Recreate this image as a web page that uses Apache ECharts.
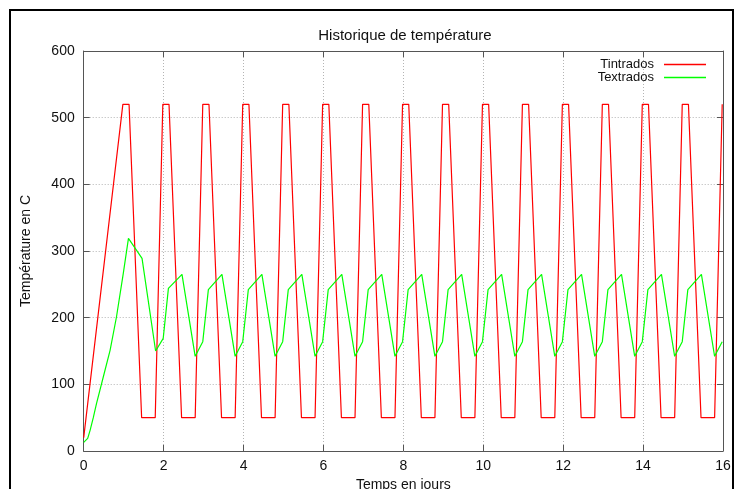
<!DOCTYPE html>
<html><head><meta charset="utf-8">
<script src="https://cdn.jsdelivr.net/npm/echarts@6/dist/echarts.min.js"></script>
<style>html,body{margin:0;padding:0;background:#fff}#c{width:736px;height:489px}</style>
</head><body><div id="c"></div>
<script>
const chartTitle = 'Historique de température';
const xName = 'Temps en jours';
const yName = 'Température en C';
const seriesNames = ['Tintrados', 'Textrados'];
const xRange = [0, 16, 2];
const yRange = [0, 600, 100];

const tintrados = [
  [0,20],
  [0.98,520],[1.135,520],[1.45,50],[1.79,50],
  [1.98,520],[2.135,520],[2.45,50],[2.79,50],
  [2.98,520],[3.135,520],[3.45,50],[3.79,50],
  [3.98,520],[4.135,520],[4.45,50],[4.79,50],
  [4.98,520],[5.135,520],[5.45,50],[5.79,50],
  [5.98,520],[6.135,520],[6.45,50],[6.79,50],
  [6.98,520],[7.135,520],[7.45,50],[7.79,50],
  [7.98,520],[8.135,520],[8.45,50],[8.79,50],
  [8.98,520],[9.135,520],[9.45,50],[9.79,50],
  [9.98,520],[10.135,520],[10.45,50],[10.79,50],
  [10.98,520],[11.135,520],[11.45,50],[11.79,50],
  [11.98,520],[12.135,520],[12.45,50],[12.79,50],
  [12.98,520],[13.135,520],[13.45,50],[13.79,50],
  [13.98,520],[14.135,520],[14.45,50],[14.79,50],
  [14.98,520],[15.135,520],[15.45,50],[15.79,50],
  [15.98,520]
];

const textrados = [
  [0,13],[0.05,14.5],[0.1,19],[0.16,31],[0.24,50],[0.32,71],[0.49,111],[0.66,151],[0.82,201],[0.99,266],
  [1.12,319],[1.46,289],[1.8,150],[1.99,169],[2.12,244],[2.46,265],
  [2.79,142],[2.98,164],[3.12,242],[3.46,265],
  [3.79,142],[3.98,164],[4.12,242],[4.46,265],
  [4.79,142],[4.98,164],[5.12,242],[5.46,265],
  [5.79,142],[5.98,164],[6.12,242],[6.46,265],
  [6.79,142],[6.98,164],[7.12,242],[7.46,265],
  [7.79,142],[7.98,164],[8.12,242],[8.46,265],
  [8.79,142],[8.98,164],[9.12,242],[9.46,265],
  [9.79,142],[9.98,164],[10.12,242],[10.46,265],
  [10.79,142],[10.98,164],[11.12,242],[11.46,265],
  [11.79,142],[11.98,164],[12.12,242],[12.46,265],
  [12.79,142],[12.98,164],[13.12,242],[13.46,265],
  [13.79,142],[13.98,164],[14.12,242],[14.46,265],
  [14.79,142],[14.98,164],[15.12,242],[15.46,265],
  [15.79,142],[15.98,164]
];

const FONT = "'Liberation Sans', Arial, sans-serif";
const axisColor = '#555';
const gridLine = {show: true, lineStyle: {color: '#b4b4b4', type: [1, 2], width: 1}};

function mirrorAxis(base, pos) {
  return Object.assign({}, base, {
    position: pos, name: '', axisLabel: {show: false}, splitLine: {show: false}
  });
}

const xBase = {
  type: 'value', min: xRange[0], max: xRange[1], interval: xRange[2],
  axisLine: {show: true, onZero: false, lineStyle: {color: axisColor, width: 1}},
  axisTick: {show: true, inside: true, length: 6, lineStyle: {color: axisColor}},
  axisLabel: {color: '#111', fontFamily: FONT, fontSize: 14, margin: 8},
  splitLine: gridLine
};
const yBase = {
  type: 'value', min: yRange[0], max: yRange[1], interval: yRange[2],
  axisLine: {show: true, onZero: false, lineStyle: {color: axisColor, width: 1}},
  axisTick: {show: true, inside: true, length: 6, lineStyle: {color: axisColor}},
  axisLabel: {color: '#111', fontFamily: FONT, fontSize: 14, margin: 9},
  splitLine: gridLine
};

const chart = echarts.init(document.getElementById('c'), null, {renderer: 'canvas'});
chart.setOption({
  animation: false,
  backgroundColor: '#fff',
  title: {
    text: chartTitle, left: 400, top: 23, textAlign: 'center',
    textStyle: {fontFamily: FONT, fontSize: 15, fontWeight: 'normal', color: '#111'}
  },
  grid: {left: 83.7, right: 13, top: 51, bottom: 38, containLabel: false, outerBoundsMode: 'none'},
  legend: {
    data: seriesNames, orient: 'vertical', align: 'right', right: 30, top: 58,
    icon: 'rect', itemWidth: 42, itemHeight: 1.5, itemGap: 0, padding: 0,
    textStyle: {fontFamily: FONT, fontSize: 13, color: '#111', lineHeight: 13, padding: [0, 5, 0, 0]}
  },
  xAxis: [
    Object.assign({}, xBase, {position: 'bottom', name: xName, nameLocation: 'middle', nameGap: 27,
      nameTextStyle: {fontFamily: FONT, fontSize: 14, color: '#111'}}),
    mirrorAxis(xBase, 'top')
  ],
  yAxis: [
    Object.assign({}, yBase, {position: 'left', name: yName, nameLocation: 'middle', nameGap: 51,
      nameTextStyle: {fontFamily: FONT, fontSize: 14, color: '#111'}}),
    mirrorAxis(yBase, 'right')
  ],
  graphic: [{
    type: 'rect', shape: {x: 10, y: 10, width: 723, height: 500},
    style: {fill: 'none', stroke: '#000', lineWidth: 2}, silent: true, z: 100
  }],
  series: [
    {name: seriesNames[0], type: 'line', data: tintrados, xAxisIndex: 0, yAxisIndex: 0,
     showSymbol: false, symbol: 'none', lineStyle: {color: '#ff0000', width: 1.2}, itemStyle: {color: '#ff0000'}},
    {name: seriesNames[1], type: 'line', data: textrados, xAxisIndex: 0, yAxisIndex: 0,
     showSymbol: false, symbol: 'none', lineStyle: {color: '#00ff00', width: 1.2}, itemStyle: {color: '#00ff00'}}
  ]
});
</script></body></html>
